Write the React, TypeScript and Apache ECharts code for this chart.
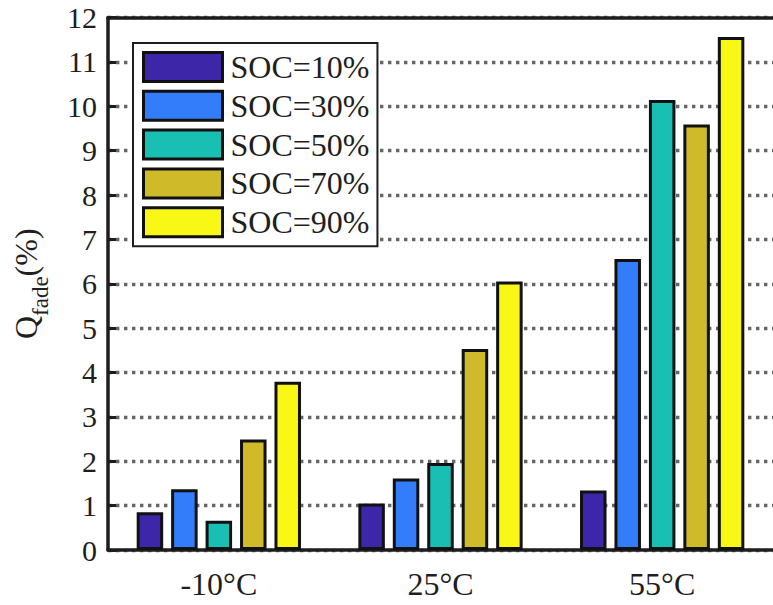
import React, { useEffect, useRef } from "react";
import * as echarts from "echarts";

// Capacity fade at each storage temperature, one series per state of charge
const temperatures = ["-10°C", "25°C", "55°C"];
const socLabels = ["SOC=10%", "SOC=30%", "SOC=50%", "SOC=70%", "SOC=90%"];
const soc10 = [0.85, 1.05, 1.34];
const soc30 = [1.37, 1.61, 6.56];
const soc50 = [0.66, 1.96, 10.14];
const soc70 = [2.49, 4.53, 9.59];
const soc90 = [3.79, 6.05, 11.56];
const socColors = ["#3E26A8", "#337DFB", "#1ABFB4", "#CFBB2A", "#F8F716"];

const FONT = "Liberation Serif";
const INK = "#1e1e1e";

export default function App() {
  const ref = useRef<HTMLDivElement>(null);

  useEffect(() => {
    if (!ref.current) return;
    const chart = echarts.init(ref.current, undefined, { renderer: "svg" });
    const values = [soc10, soc30, soc50, soc70, soc90];

    chart.setOption({
      animation: false,
      backgroundColor: "#ffffff",
      textStyle: { fontFamily: FONT },
      grid: { left: 108, top: 17.5, width: 671, height: 532.5 },
      legend: {
        orient: "vertical",
        left: 133,
        top: 43,
        padding: [8, 8, 8, 9],
        itemWidth: 79,
        itemHeight: 29,
        itemGap: 6.8,
        backgroundColor: "#ffffff",
        borderColor: INK,
        borderWidth: 2,
        borderRadius: 0,
        icon: "rect",
        itemStyle: { borderColor: "#111", borderWidth: 3 },
        textStyle: {
          fontFamily: FONT,
          fontSize: 32,
          color: INK,
          padding: [0, 0, 0, 3],
        },
        data: socLabels,
      },
      xAxis: [
        {
          type: "category",
          data: temperatures,
          position: "bottom",
          axisLine: { lineStyle: { color: INK, width: 3.5 } },
          axisTick: { inside: true, alignWithLabel: true, length: 7, lineStyle: { width: 3 } },
          axisLabel: { fontFamily: FONT, fontSize: 32, color: INK, margin: 18 },
          splitLine: { show: false },
        },
        {
          type: "category",
          data: temperatures,
          position: "top",
          axisLine: { lineStyle: { color: INK, width: 3.5 } },
          axisTick: { inside: true, alignWithLabel: true, length: 7, lineStyle: { width: 3 } },
          axisLabel: { show: false },
          splitLine: { show: false },
        },
      ],
      yAxis: {
        type: "value",
        min: 0,
        max: 12,
        interval: 1,
        name: "{q|Q}{s|fade}{q|(%)}",
        nameLocation: "middle",
        nameRotate: 90,
        nameGap: 66,
        nameTextStyle: {
          rich: {
            q: { fontFamily: FONT, fontSize: 32, lineHeight: 32, color: INK, verticalAlign: "top" },
            s: {
              fontFamily: FONT,
              fontSize: 23,
              lineHeight: 23,
              color: INK,
              verticalAlign: "top",
              padding: [19, 0, 0, 0],
            },
          },
        },
        axisLine: { show: true, lineStyle: { color: INK, width: 3.5 } },
        axisTick: { show: true, inside: true, length: 8, lineStyle: { width: 3 } },
        axisLabel: { fontFamily: FONT, fontSize: 30, color: INK, margin: 11 },
        splitLine: {
          show: true,
          lineStyle: { color: "#666666", width: 3.4, type: [3.4, 4.6] },
        },
      },
      series: socLabels.map((name, i) => ({
        name,
        type: "bar",
        xAxisIndex: 0,
        data: values[i],
        barWidth: 26.5,
        barGap: "30%",
        itemStyle: { color: socColors[i], borderColor: "#111", borderWidth: 3 },
      })),
    });

    return () => chart.dispose();
  }, []);

  return (
    <div
      ref={ref}
      style={{ position: "fixed", left: 0, top: 0, width: 773, height: 605 }}
    />
  );
}
